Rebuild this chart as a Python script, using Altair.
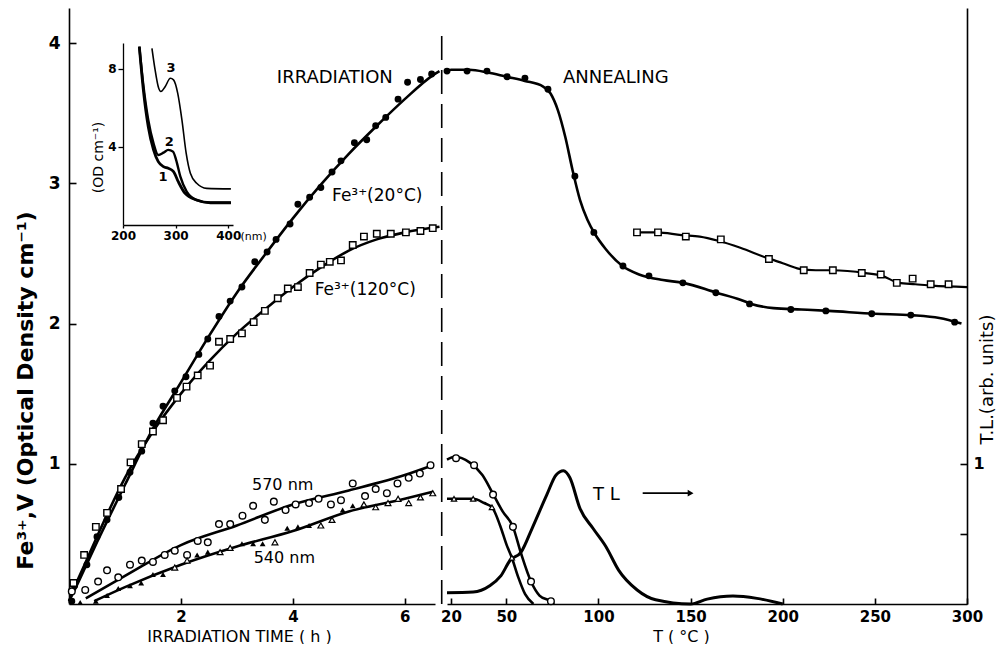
import altair as alt
import pandas as pd

FONT = "DejaVu Sans"

# ---------------- left panel: irradiation (time in h) ----------------
fe20_t = [0.05, 0.1, 0.32, 0.5, 0.68, 0.89, 1.09, 1.3, 1.5, 1.68, 1.89, 2.09, 2.32, 2.48, 2.68, 2.88, 3.09, 3.32,
          3.54, 3.7, 3.95, 4.09, 4.3, 4.5, 4.7, 4.86, 5.1, 5.32, 5.48, 5.66, 5.88, 6.05, 6.28, 6.48]
fe20_v = [0.02, 0.13, 0.28, 0.48, 0.6, 0.76, 0.94, 1.09, 1.29, 1.41, 1.52, 1.62, 1.78, 1.89, 2.05, 2.16, 2.26, 2.44,
          2.51, 2.6, 2.71, 2.85, 2.9, 2.97, 3.08, 3.16, 3.29, 3.31, 3.41, 3.47, 3.6, 3.72, 3.74, 3.78]
fe20_line_t = [0.0, 0.1, 0.3, 0.5, 1.0, 1.5, 2.0, 2.5, 3.0, 3.5, 4.0, 4.5, 5.0, 5.5, 6.0, 6.5, 6.62]
fe20_line_v = [0.02, 0.1, 0.27, 0.44, 0.85, 1.25, 1.58, 1.91, 2.22, 2.49, 2.75, 2.99, 3.21, 3.41, 3.6, 3.77, 3.8]

fe120_t = [0.08, 0.27, 0.48, 0.68, 0.93, 1.1, 1.3, 1.5, 1.68, 1.93, 2.1, 2.3, 2.52, 2.68, 2.88, 3.09, 3.3, 3.5,
           3.73, 3.91, 4.09, 4.3, 4.5, 4.66, 4.86, 5.07, 5.27, 5.5, 5.75, 6.02, 6.28, 6.5]
fe120_v = [0.15, 0.35, 0.55, 0.65, 0.82, 1.01, 1.14, 1.23, 1.31, 1.47, 1.55, 1.63, 1.7, 1.87, 1.89, 1.93, 2.01, 2.09,
           2.18, 2.25, 2.26, 2.36, 2.42, 2.44, 2.45, 2.56, 2.62, 2.64, 2.64, 2.65, 2.66, 2.68]
fe120_line_t = [0.0, 0.1, 0.3, 0.5, 1.0, 1.5, 2.0, 2.5, 3.0, 3.5, 4.0, 4.5, 5.0, 5.5, 6.0, 6.62]
fe120_line_v = [0.02, 0.12, 0.3, 0.48, 0.9, 1.23, 1.5, 1.73, 1.93, 2.1, 2.26, 2.4, 2.52, 2.6, 2.65, 2.69]

v570_t = [0.05, 0.29, 0.52, 0.68, 0.88, 1.09, 1.3, 1.5, 1.71, 1.89, 2.11, 2.3, 2.48, 2.68, 2.88, 3.1, 3.29, 3.5,
          3.66, 3.87, 4.05, 4.29, 4.46, 4.68, 4.86, 5.07, 5.29, 5.48, 5.68, 5.87, 6.07, 6.27, 6.46]
v570_v = [0.09, 0.1, 0.16, 0.24, 0.19, 0.28, 0.31, 0.3, 0.35, 0.38, 0.35, 0.45, 0.44, 0.57, 0.57, 0.63, 0.7, 0.6,
          0.73, 0.67, 0.71, 0.72, 0.75, 0.71, 0.74, 0.86, 0.77, 0.82, 0.79, 0.86, 0.9, 0.93, 0.99]
v570_line_t = [0.3, 1.0, 2.0, 3.0, 4.0, 5.0, 6.0, 6.5]
v570_line_v = [0.04, 0.2, 0.42, 0.56, 0.71, 0.81, 0.92, 0.99]

v540_t = [0.2, 0.48, 0.68, 0.88, 1.09, 1.29, 1.5, 1.68, 1.89, 2.11, 2.29, 2.48, 2.7, 2.88, 3.09, 3.29, 3.46, 3.68,
          3.9, 4.09, 4.29, 4.5, 4.7, 4.89, 5.07, 5.27, 5.48, 5.7, 5.88, 6.07, 6.28, 6.5]
v540_v = [0.01, 0.02, 0.06, 0.11, 0.13, 0.15, 0.21, 0.21, 0.26, 0.31, 0.35, 0.37, 0.37, 0.4, 0.43, 0.43, 0.43, 0.44,
          0.54, 0.55, 0.56, 0.56, 0.6, 0.67, 0.7, 0.71, 0.69, 0.72, 0.75, 0.72, 0.76, 0.79]
v540_filled = [1, 1, 1, 1, 1, 1, 1, 1, 0, 0, 1, 1, 0, 0, 1, 1, 1, 0,
               1, 1, 1, 0, 0, 1, 1, 0, 0, 0, 0, 0, 0, 0]
v540_line_t = [0.45, 1.0, 2.0, 3.0, 4.0, 5.0, 6.0, 6.5]
v540_line_v = [0.02, 0.12, 0.28, 0.41, 0.52, 0.66, 0.75, 0.8]

# ---------------- right panel: annealing (T in degC) ----------------
ann20_T = [17.8, 28.7, 39.5, 50.4, 60.1, 72.6, 87.2, 97.5, 113.3, 127.4, 145.8, 163.7, 182, 204.4, 223.4, 248.3,
           269.5, 293.3]
ann20_v = [3.8, 3.8, 3.8, 3.76, 3.75, 3.67, 3.05, 2.65, 2.41, 2.34, 2.29, 2.22, 2.14, 2.1, 2.09, 2.07, 2.06, 2.01]
ann20_line_T = [17.8, 20, 30, 40, 50, 60, 70, 74, 78, 82, 86, 90, 94, 98, 104, 113, 122, 135, 146, 164, 177, 183,
                195, 210, 225, 250, 270, 285, 297]
ann20_line_v = [3.8, 3.81, 3.81, 3.79, 3.76, 3.73, 3.69, 3.64, 3.52, 3.33, 3.09, 2.88, 2.74, 2.64, 2.53, 2.41, 2.35,
                2.31, 2.29, 2.22, 2.17, 2.14, 2.11, 2.1, 2.09, 2.07, 2.06, 2.04, 2.0]

ann120_T = [120.9, 132.3, 147.4, 166.4, 192.5, 211.4, 227.2, 242.9, 253.2, 261.9, 270.5, 280.3, 290]
ann120_v = [2.65, 2.65, 2.62, 2.6, 2.46, 2.38, 2.38, 2.36, 2.35, 2.29, 2.32, 2.28, 2.28]
ann120_line_T = [121, 132, 145, 155, 165, 177, 191, 200, 209, 218, 227, 245, 254, 263, 272, 281, 300]
ann120_line_v = [2.65, 2.65, 2.63, 2.62, 2.59, 2.54, 2.47, 2.43, 2.39, 2.38, 2.38, 2.36, 2.34, 2.29, 2.28, 2.27, 2.26]

ann570_T = [22.7, 32.5, 42.8, 53.6, 63.4, 74.2]
ann570_v = [1.04, 0.99, 0.78, 0.55, 0.16, 0.02]
ann570_line_T = [17.8, 22, 30, 37, 43, 48, 53.6, 58, 63.4, 68, 74, 76]
ann570_line_v = [1.03, 1.05, 1.01, 0.92, 0.78, 0.66, 0.55, 0.36, 0.16, 0.06, 0.02, 0.0]

ann540_T = [21.6, 32, 42.2, 53]
ann540_v = [0.75, 0.75, 0.69, 0.33]
ann540_line_T = [17.8, 25, 32, 38, 42.2, 46.6, 50.2, 53, 56.5, 60.2, 64.7]
ann540_line_v = [0.75, 0.75, 0.75, 0.72, 0.69, 0.56, 0.42, 0.33, 0.19, 0.07, 0.0]

tl_T = [17.8, 32, 41, 47, 52, 58, 64, 72, 77, 81, 84.5, 90, 97, 104, 111, 121, 131, 150, 159, 173, 186, 200]
tl_v = [0.08, 0.085, 0.13, 0.2, 0.31, 0.37, 0.54, 0.78, 0.92, 0.95, 0.9, 0.68, 0.54, 0.41, 0.24, 0.1, 0.03, 0.0,
        0.035, 0.057, 0.04, 0.0]

# ---------------- inset: absorption spectra ----------------
sp1_nm = [231, 239, 248, 258, 267, 277, 286, 296, 305, 318, 340, 366, 405]
sp1_od = [9.14, 6.84, 5.04, 3.85, 3.25, 2.99, 2.91, 2.74, 2.22, 1.62, 1.28, 1.14, 1.14]
sp2_nm = [231, 239, 248, 258, 267, 277, 286, 295, 301, 309, 321, 340, 366, 405]
sp2_od = [9.14, 7.09, 5.38, 4.19, 3.59, 3.71, 3.85, 3.76, 3.33, 2.48, 1.71, 1.28, 1.14, 1.14]
sp3_nm = [255, 261, 267, 272, 280, 290, 296, 304, 312, 320, 328, 340, 359, 405]
sp3_od = [9.06, 7.95, 7.09, 6.84, 7.09, 7.52, 7.44, 6.75, 5.38, 3.68, 2.65, 2.14, 1.88, 1.85]

# ---------------- texts ----------------
left_labels = ["IRRADIATION", "Fe³⁺(20°C)", "Fe³⁺(120°C)", "570 nm", "540 nm"]
left_label_t = [4.75, 4.70, 4.39, 3.27, 3.30]
left_label_v = [3.75, 2.91, 2.24, 0.85, 0.33]
right_labels = ["ANNEALING", "T  L"]
right_label_T = [80.7, 97.0]
right_label_v = [3.75, 0.78]
arrow_T = [124.0, 150.0]
arrow_v = [0.79, 0.79]
inset_labels = ["3", "2", "1"]
inset_label_nm = [291, 288, 276]
inset_label_od = [8.05, 4.26, 2.46]
dash_t = [6.66]
dash_top = [4.09]

# ---------------- scales / axes ----------------
W, H = 898, 596
BLACK = "black"

sx_left = alt.Scale(domain=[0, 6.54], range=[0, 366], nice=False, zero=False)
sx_right = alt.Scale(domain=[17.8, 300], range=[378, 898], nice=False, zero=False)
sy_main = alt.Scale(domain=[0, 4.25], nice=False, zero=False)
sx_in = alt.Scale(domain=[200, 409], range=[54, 164], nice=False, zero=False)
sy_in = alt.Scale(domain=[0, 9.33], range=[217, 35], nice=False, zero=False)

common_axis = dict(grid=False, domainColor=BLACK, tickColor=BLACK, labelColor=BLACK, titleColor=BLACK,
                   labelFont=FONT, titleFont=FONT, labelFlush=False, labelOverlap=False)

ax_left_x = alt.Axis(orient="bottom", values=[2, 4, 6], format="d", tickSize=alt.ExprRef(expr="-6"),
                     labelPadding=11, labelFontSize=15, labelFontWeight="bold", domainWidth=1.6, tickWidth=1.6,
                     title="IRRADIATION   TIME   ( h )", titleX=170, titleFontSize=16, titleFontWeight="normal",
                     titlePadding=4, **common_axis)
ax_right_x = alt.Axis(orient="bottom", values=[20, 50, 100, 150, 200, 250, 300], format="d",
                      tickSize=alt.ExprRef(expr="-6"), labelPadding=11, labelFontSize=15, labelFontWeight="bold",
                      domainWidth=1.6, tickWidth=1.6, title="T ( °C )", titleX=612, titleFontSize=16,
                      titleFontWeight="normal", titlePadding=4, **common_axis)
ax_left_y = alt.Axis(orient="left", values=[1, 2, 3, 4], format="d", tickSize=alt.ExprRef(expr="-7"),
                     labelPadding=16, labelFontSize=17, labelFontWeight="bold", domainWidth=1.6, tickWidth=1.6,
                     title="Fe³⁺,V (Optical Density cm⁻¹)", titleX=-44, titleY=382, titleAngle=270,
                     titleAlign="center", titleBaseline="middle", titleFontSize=22, titleFontWeight="bold",
                     **common_axis)
ax_right_y = alt.Axis(orient="right", values=[0.5, 1], labelExpr="datum.value == 1 ? '1' : ''",
                      tickSize=alt.ExprRef(expr="-7"), labelPadding=13, labelFontSize=16, labelFontWeight="bold",
                      domainWidth=1.6, tickWidth=1.6, title="T.L.(arb. units)", titleX=20, titleY=371,
                      titleAngle=270, titleAlign="center", titleBaseline="middle", titleFontSize=18,
                      titleFontWeight="normal", **common_axis)
ax_in_x = alt.Axis(orient="bottom", offset=-379, values=[200, 300, 400], format="d", tickSize=3,
                   labelPadding=2, labelFontSize=12, labelFontWeight="bold", domainWidth=1.3, tickWidth=1.3,
                   title="(nm)", titleX=171, titleY=11, titleAlign="left", titleBaseline="middle",
                   titleFontSize=11, titleFontWeight="normal", **common_axis)
ax_in_y = alt.Axis(orient="left", offset=-54, values=[4, 8], format="d", tickSize=5, labelPadding=2,
                   labelFontSize=12, labelFontWeight="bold", domainWidth=1.3, tickWidth=1.3,
                   title="(OD cm⁻¹)", titleX=-25, titleY=149, titleAngle=270, titleAlign="center",
                   titleBaseline="middle", titleFontSize=14, titleFontWeight="normal", **common_axis)


def XL(f="t"):
    return alt.X(f"{f}:Q", scale=sx_left, axis=ax_left_x)


def YL(f="v"):
    return alt.Y(f"{f}:Q", scale=sy_main, axis=ax_left_y)


def XR(f="T"):
    return alt.X(f"{f}:Q", scale=sx_right, axis=ax_right_x)


def YR(f="v"):
    return alt.Y(f"{f}:Q", scale=sy_main, axis=ax_right_y)


def XI(f="nm"):
    return alt.X(f"{f}:Q", scale=sx_in, axis=ax_in_x)


def YI(f="od"):
    return alt.Y(f"{f}:Q", scale=sy_in, axis=ax_in_y)


def df(**cols):
    return pd.DataFrame(cols)


LW = 2.6
filled_pt = dict(shape="circle", filled=True, color=BLACK, size=48, opacity=1)
open_sq = dict(shape="square", filled=True, fill="white", stroke=BLACK, strokeWidth=1.4, size=42, opacity=1)
open_ci = dict(shape="circle", filled=True, fill="white", stroke=BLACK, strokeWidth=1.4, size=44, opacity=1)

# ---- left layers ----
left_layers = []
for lt, lv in [(fe20_line_t, fe20_line_v), (fe120_line_t, fe120_line_v), (v570_line_t, v570_line_v),
               (v540_line_t, v540_line_v)]:
    left_layers.append(alt.Chart(df(t=lt, v=lv)).mark_line(color=BLACK, strokeWidth=LW, interpolate="monotone")
                       .encode(x=XL(), y=YL()))
left_layers.append(alt.Chart(df(t=fe20_t, v=fe20_v)).mark_point(**filled_pt).encode(x=XL(), y=YL()))
left_layers.append(alt.Chart(df(t=fe120_t, v=fe120_v)).mark_point(**open_sq).encode(x=XL(), y=YL()))
left_layers.append(alt.Chart(df(t=v570_t, v=v570_v)).mark_point(**open_ci).encode(x=XL(), y=YL()))
tri = df(t=v540_t, v=v540_v, f=v540_filled)
left_layers.append(alt.Chart(tri[tri.f == 1]).mark_point(shape="triangle-up", filled=True, color=BLACK, size=34,
                                                         opacity=1).encode(x=XL(), y=YL()))
left_layers.append(alt.Chart(tri[tri.f == 0]).mark_point(shape="triangle-up", filled=True, fill="white",
                                                         stroke=BLACK, strokeWidth=1.2, size=34, opacity=1)
                   .encode(x=XL(), y=YL()))
left_layers.append(alt.Chart(df(t=dash_t, v=[0.0], v2=dash_top)).mark_rule(color=BLACK, strokeWidth=1.6,
                                                                             strokeDash=[24, 10])
                   .encode(x=XL(), y=YL(), y2="v2:Q"))
lt_df = df(t=left_label_t, v=left_label_v, s=left_labels)
left_layers.append(alt.Chart(lt_df.iloc[[0]]).mark_text(font=FONT, fontSize=18, color=BLACK, align="center")
                   .encode(x=XL(), y=YL(), text="s:N"))
left_layers.append(alt.Chart(lt_df.iloc[1:3]).mark_text(font=FONT, fontSize=17, color=BLACK, align="left")
                   .encode(x=XL(), y=YL(), text="s:N"))
left_layers.append(alt.Chart(lt_df.iloc[3:]).mark_text(font=FONT, fontSize=16, color=BLACK, align="left")
                   .encode(x=XL(), y=YL(), text="s:N"))

# ---- right layers ----
right_layers = []
for lt, lv, w in [(ann20_line_T, ann20_line_v, LW), (ann120_line_T, ann120_line_v, 2.2),
                  (ann570_line_T, ann570_line_v, LW), (ann540_line_T, ann540_line_v, LW), (tl_T, tl_v, 3.0)]:
    right_layers.append(alt.Chart(df(T=lt, v=lv)).mark_line(color=BLACK, strokeWidth=w, interpolate="monotone")
                        .encode(x=XR(), y=YR()))
right_layers.append(alt.Chart(df(T=ann20_T, v=ann20_v)).mark_point(**filled_pt).encode(x=XR(), y=YR()))
right_layers.append(alt.Chart(df(T=ann120_T, v=ann120_v)).mark_point(**open_sq).encode(x=XR(), y=YR()))
right_layers.append(alt.Chart(df(T=ann570_T, v=ann570_v)).mark_point(**open_ci).encode(x=XR(), y=YR()))
right_layers.append(alt.Chart(df(T=ann540_T, v=ann540_v)).mark_point(shape="triangle-up", filled=True,
                                                                      fill="white", stroke=BLACK, strokeWidth=1.2,
                                                                      size=28, opacity=1).encode(x=XR(), y=YR()))
right_layers.append(alt.Chart(df(T=right_label_T, v=right_label_v, s=right_labels))
                    .mark_text(font=FONT, fontSize=18, color=BLACK, align="left").encode(x=XR(), y=YR(), text="s:N"))
right_layers.append(alt.Chart(df(T=arrow_T[:1], v=arrow_v[:1], T2=arrow_T[1:], v2=arrow_v[1:]))
                    .mark_rule(color=BLACK, strokeWidth=1.8).encode(x=XR(), y=YR(), x2="T2:Q"))
right_layers.append(alt.Chart(df(T=arrow_T[1:], v=arrow_v[1:]))
                    .mark_point(shape="triangle-right", filled=True, color=BLACK, size=45, opacity=1)
                    .encode(x=XR(), y=YR()))

# ---- inset layers ----
inset_layers = []
for nm, od, w in [(sp1_nm, sp1_od, 2.8), (sp2_nm, sp2_od, 2.4), (sp3_nm, sp3_od, 1.6)]:
    inset_layers.append(alt.Chart(df(nm=nm, od=od)).mark_line(color=BLACK, strokeWidth=w, interpolate="monotone")
                        .encode(x=XI(), y=YI()))
inset_layers.append(alt.Chart(df(nm=inset_label_nm, od=inset_label_od, s=inset_labels))
                    .mark_text(font=FONT, fontSize=13, fontWeight="bold", color=BLACK)
                    .encode(x=XI(), y=YI(), text="s:N"))

chart = (
    alt.layer(alt.layer(*left_layers), alt.layer(*right_layers), alt.layer(*inset_layers))
    .resolve_scale(x="independent", y="independent")
    .properties(width=W, height=H, padding={"left": 6, "top": 0, "right": 0, "bottom": 0}, background="white")
    .configure_view(stroke=None)
)

chart.save("out.html", embed_options={"renderer": "svg", "actions": False})
